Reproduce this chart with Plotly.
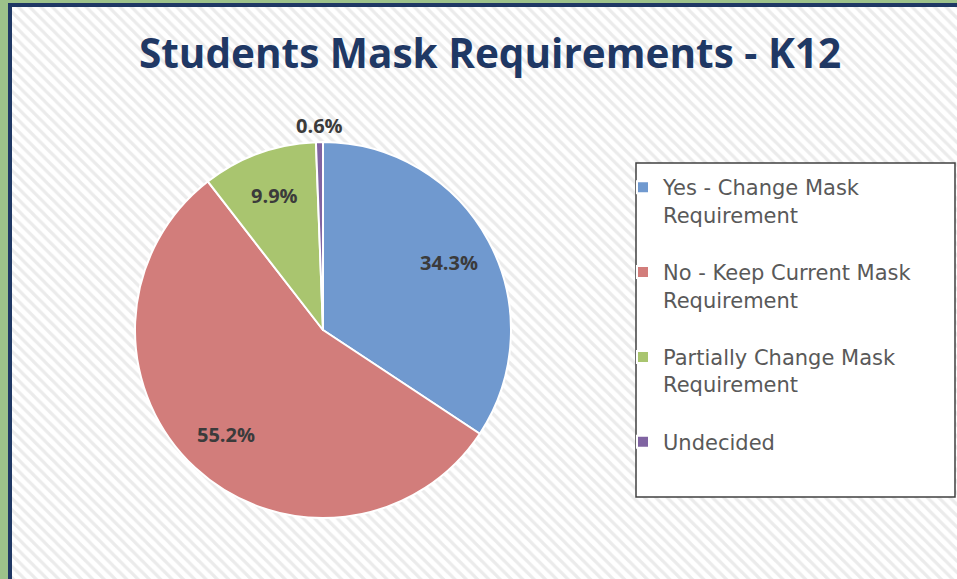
import math
import plotly.graph_objects as go

categories = ["Yes - Change Mask Requirement", "No - Keep Current Mask Requirement",
              "Partially Change Mask Requirement", "Undecided"]
legend_labels = ["Yes - Change Mask<br>Requirement<br> ", "No - Keep Current Mask<br>Requirement<br> ",
                 "Partially Change Mask<br>Requirement<br> ", "Undecided"]
values = [34.3, 55.2, 9.9, 0.6]
slice_colors = ["#7099cf", "#d27d7b", "#a9c56f", "#8064a2"]

W, H = 957, 579
CX, CY, R = 323, 330, 188          # pie centre / radius in pixels

fig = go.Figure()

# striped background (hidden pixel-like axes)
fig.add_trace(go.Scatter(
    x=[12, W + 5, W + 5, 12, 12], y=[7, 7, H + 5, H + 5, 7],
    mode="lines", line=dict(width=0), fill="toself", fillcolor="white",
    fillpattern=dict(shape="\\", fgcolor="#d8d8d8", bgcolor="white", size=8, solidity=0.4),
    hoverinfo="skip", showlegend=False, xaxis="x", yaxis="y"))

fig.add_trace(go.Pie(
    labels=legend_labels, values=values, sort=False, direction="clockwise", rotation=0,
    marker=dict(colors=slice_colors, line=dict(color="white", width=2)),
    textinfo="none",
    domain=dict(x=[(CX - R) / W, (CX + R) / W], y=[1 - (CY + R) / H, 1 - (CY - R) / H]),
    hoverinfo="label+percent",
))

# data labels placed from the slice angles
total = sum(values)
annotations = []
cum = 0.0
for v in values:
    theta = 2 * math.pi * (cum + v / 2) / total
    cum += v
    k = 0.76 if v / total > 0.05 else 1.09
    annotations.append(dict(
        x=CX + k * R * math.sin(theta), y=CY - k * R * math.cos(theta),
        xref="x", yref="y", text=f"{v:.1f}%", showarrow=False,
        font=dict(family="Open Sans", size=20, color="#3b3b3b", weight=700)))

fig.update_layout(
    width=W, height=H,
    margin=dict(l=0, r=0, t=0, b=0),
    paper_bgcolor="#9dc28a",
    plot_bgcolor="rgba(0,0,0,0)",
    xaxis=dict(range=[0, W], domain=[0, 1], visible=False, fixedrange=True),
    yaxis=dict(range=[H, 0], domain=[0, 1], visible=False, fixedrange=True),
    title=dict(text="<b>Students Mask Requirements - K12</b>", x=490 / W, xanchor="center",
               y=1 - 54 / H, yanchor="middle",
               font=dict(family="Open Sans", size=40.5, color="#1f3864")),
    showlegend=True,
    legend=dict(x=623 / W, y=1 - 167 / H, xanchor="left", yanchor="top",
                bgcolor="rgba(0,0,0,0)", borderwidth=0, valign="top",
                font=dict(family="DejaVu Sans", size=21, color="#595959")),
    annotations=annotations,
    shapes=[
        dict(type="rect", xref="x", yref="y", x0=8, y0=3, x1=W + 10, y1=H + 10,
             fillcolor="#1f3864", line=dict(width=0), layer="below"),
        dict(type="rect", xref="x", yref="y", x0=636, y0=163, x1=955, y1=497,
             fillcolor="white", line=dict(color="#404040", width=1.5), layer="above"),
    ],
)

fig.write_html("out.html", config={"displayModeBar": False},
               post_script="document.body.style.margin='0';")
